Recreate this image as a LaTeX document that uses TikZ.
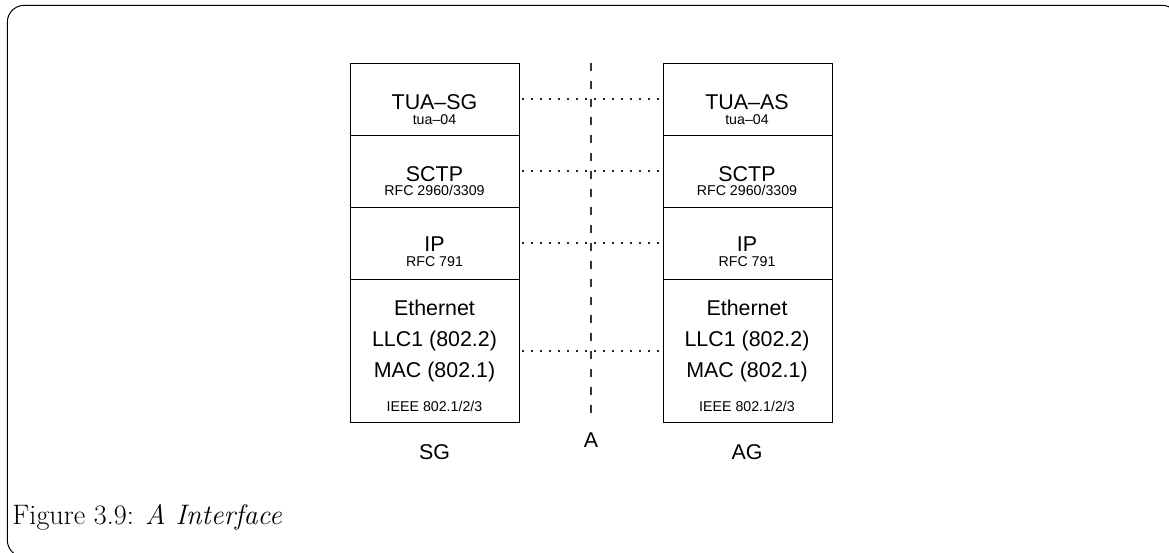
\documentclass[tikz,border=0pt]{standalone}
\usepackage{fontspec}
\newfontfamily\hv{Liberation Sans}
\begin{document}
\begin{tikzpicture}[x=1pt,y=-1pt,
  layer/.style={draw=black, line width=1.1pt, minimum width=169pt, minimum height=#1, inner sep=0pt, anchor=north west},
  big/.style={font=\hv\fontsize{21.4}{24}\selectfont, anchor=base, inner sep=0pt},
  small/.style={font=\hv\fontsize{14.2}{16}\selectfont, anchor=base, inner sep=0pt},
  peer/.style={line width=1.4pt, draw=black!85, dash pattern=on 1.4pt off 7.6pt, shorten <=2pt, shorten >=2pt},
  iface/.style={line width=1.1pt, draw=black!80, dash pattern=on 8pt off 10pt}]
\useasboundingbox (0,0) rectangle (1169,552);
% frame
\draw[line width=1pt, rounded corners=17pt] (7.3,5.3) rectangle (1179,557);
% left stack (SG)
\node[layer=71.8pt] (sg1) at (350,62.7) {};
\node[layer=72pt]   (sg2) at (350,134.5) {};
\node[layer=72.2pt] (sg3) at (350,206.5) {};
\node[layer=143.3pt] (sg4) at (350,278.7) {};
% right stack (AG)
\node[layer=71.8pt] (ag1) at (663,62.7) {};
\node[layer=72pt]   (ag2) at (663,134.5) {};
\node[layer=72.2pt] (ag3) at (663,206.5) {};
\node[layer=143.3pt] (ag4) at (663,278.7) {};
% texts left
\node[big]   (sgA) at (434.5,109) {TUA–SG};
\node[small] (sgAs) at (434.5,124) {tua–04};
\node[big]   (sgB) at (434.5,181) {SCTP};
\node[small] (sgBs) at (434.5,195) {RFC 2960/3309};
\node[big]   (sgC) at (434.5,251) {IP};
\node[small] (sgCs) at (434.5,266.7) {RFC 791};
\node[big]   (sgD1) at (434.5,315) {Ethernet};
\node[big]   (sgD2) at (434.5,346) {LLC1 (802.2)};
\node[big]   (sgD3) at (434.5,377) {MAC (802.1)};
\node[small] (sgDs) at (434.5,411) {IEEE 802.1/2/3};
% texts right
\node[big]   (agA) at (747,109) {TUA–AS};
\node[small] (agAs) at (747,124) {tua–04};
\node[big]   (agB) at (747,181) {SCTP};
\node[small] (agBs) at (747,195) {RFC 2960/3309};
\node[big]   (agC) at (747,251) {IP};
\node[small] (agCs) at (747,266.7) {RFC 791};
\node[big]   (agD1) at (747,315) {Ethernet};
\node[big]   (agD2) at (747,346) {LLC1 (802.2)};
\node[big]   (agD3) at (747,377) {MAC (802.1)};
\node[small] (agDs) at (747,411) {IEEE 802.1/2/3};
% peer lines
\draw[peer] (sg1.east) -- (ag1.west);
\draw[peer] (sg2.east) -- (ag2.west);
\draw[peer] (sg3.east) -- (ag3.west);
\draw[peer] (sg4.east) -- (ag4.west);
% interface line
\coordinate (atop) at (591,62.7);
\coordinate (abot) at (591,419);
\draw[iface] (atop) -- (abot);
\node[big] (Alab) at (591,447) {A};
\node[big] (SGlab) at (434.5,459) {SG};
\node[big] (AGlab) at (747,459) {AG};
% caption
\node[anchor=base west, inner sep=0pt, font=\fontsize{28.2}{32}\selectfont] (cap) at (12.3,524) {Figure 3.9: \textit{A Interface}};
\end{tikzpicture}
\end{document}
